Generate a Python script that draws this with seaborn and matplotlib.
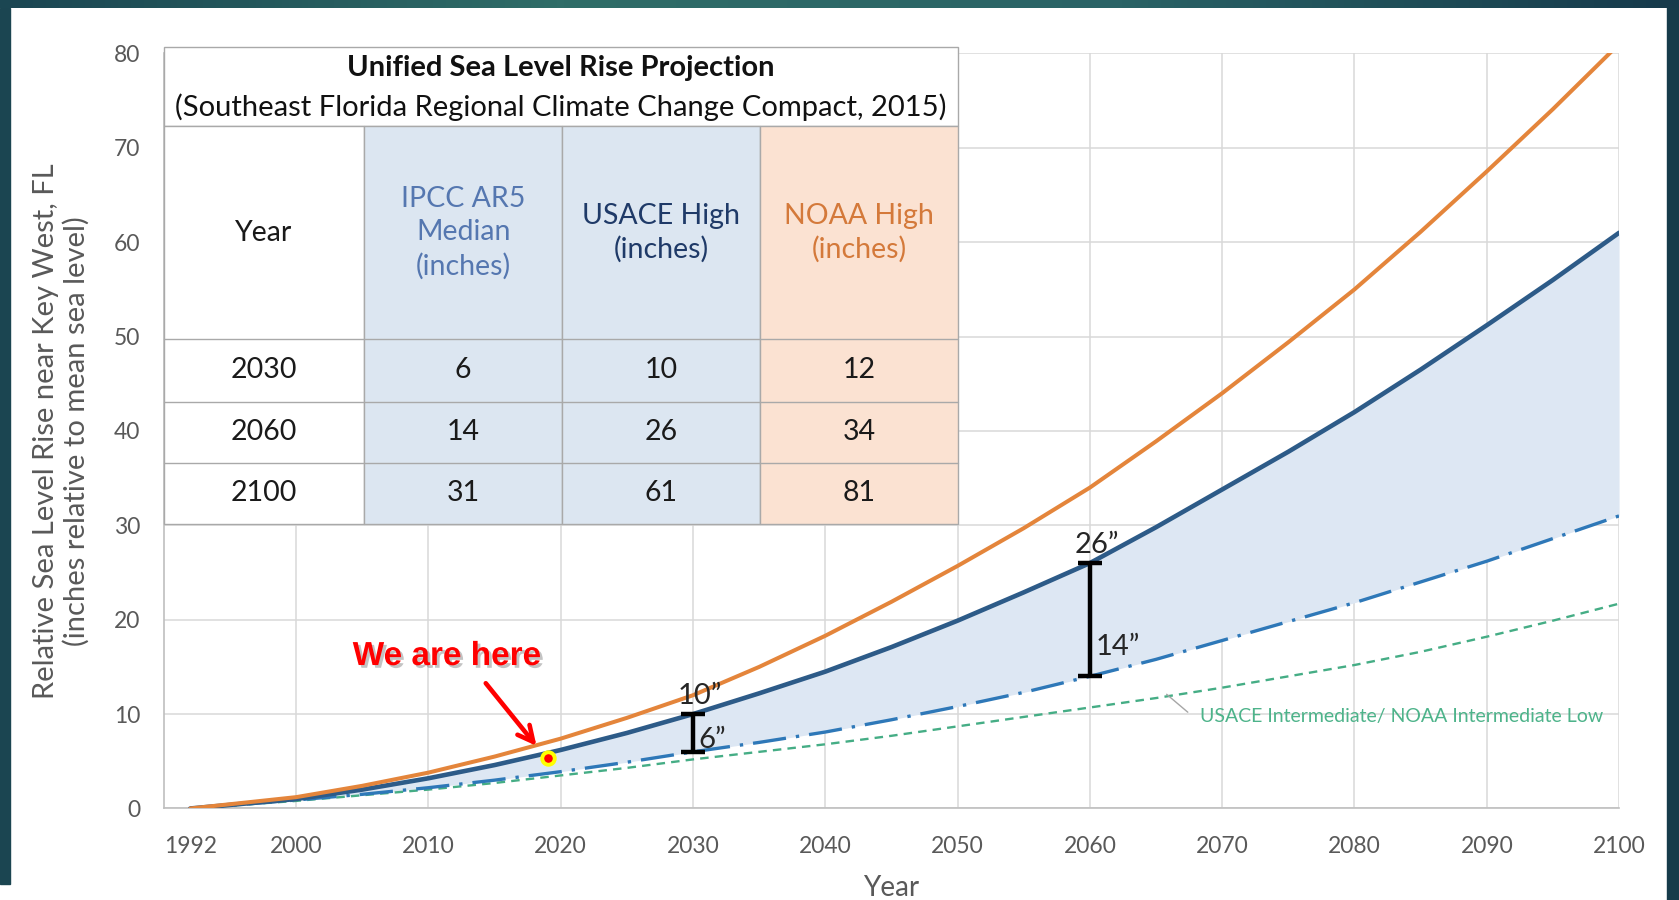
import numpy as np
import matplotlib.pyplot as plt
import matplotlib.patheffects as pe
from matplotlib.patches import Rectangle
from matplotlib.colors import LinearSegmentedColormap
import seaborn as sns

# Projection curves (inches relative to mean sea level), read every 5 years
years = [1992, 2000, 2005, 2010, 2015, 2020, 2025, 2030, 2035, 2040, 2045, 2050,
         2055, 2060, 2065, 2070, 2075, 2080, 2085, 2090, 2095, 2100]
noaa_high = [0, 1.2, 2.4, 3.8, 5.5, 7.4, 9.6, 12, 15, 18.3, 21.9, 25.7,
             29.7, 34, 38.9, 44, 49.4, 55, 61.1, 67.5, 74.1, 81]
usace_high = [0, 1.0, 2.0, 3.2, 4.6, 6.2, 8.0, 10, 12.2, 14.5, 17.1, 19.9,
              22.9, 26, 29.8, 33.8, 37.8, 42, 46.5, 51.2, 56, 61]
ipcc_median = [0, 0.9, 1.5, 2.2, 3.0, 3.9, 4.9, 6, 7.0, 8.1, 9.4, 10.8,
               12.3, 14, 15.8, 17.8, 19.8, 21.8, 24.0, 26.2, 28.6, 31]
usace_int = [0, 0.8, 1.4, 2.0, 2.7, 3.5, 4.3, 5.2, 6.0, 6.8, 7.7, 8.7,
             9.7, 10.7, 11.7, 12.8, 14.0, 15.2, 16.6, 18.2, 19.9, 21.7]

# Table values
table_years = [2030, 2060, 2100]
table_ipcc = [6, 14, 31]
table_usace = [10, 26, 61]
table_noaa = [12, 34, 81]
table_headers = ["Year", "IPCC AR5\nMedian\n(inches)", "USACE High\n(inches)", "NOAA High\n(inches)"]

# Range bars and "we are here"
bar_years = [2030, 2060]
bar_low = [6, 14]
bar_high = [10, 26]
here_year = 2019
here_value = 5.3

x_ticks = [1992, 2000, 2010, 2020, 2030, 2040, 2050, 2060, 2070, 2080, 2090, 2100]
y_ticks = [0, 10, 20, 30, 40, 50, 60, 70, 80]

sns.set_theme(style="whitegrid")
plt.rcParams['font.family'] = ['Lato', 'DejaVu Sans']

fig = plt.figure(figsize=(16.79, 9), dpi=100)
ax = fig.add_axes([0.0976, 0.1017, 0.8667, 0.8389])

# shaded band between IPCC median and USACE high
ax.fill_between(years, ipcc_median, usace_high, color='#dde7f3', zorder=1, linewidth=0)

sns.lineplot(x=years, y=usace_int, ax=ax, color='#45ad85', linewidth=1.7, zorder=3)
ax.lines[-1].set_dashes((3.6, 2.6))
sns.lineplot(x=years, y=ipcc_median, ax=ax, color='#2e78b8', linewidth=2.4, zorder=3)
ax.lines[-1].set_dashes((10, 3, 1, 3))
sns.lineplot(x=years, y=usace_high, ax=ax, color='#2d5b88', linewidth=3.3, zorder=4)
sns.lineplot(x=years, y=noaa_high, ax=ax, color='#e4853b', linewidth=2.9, zorder=4)

# range bars
ax.vlines(bar_years, bar_low, bar_high, color='black', linewidth=3.2, zorder=6)
ax.hlines(bar_low + bar_high, [y - 0.9 for y in bar_years * 2], [y + 0.9 for y in bar_years * 2],
          color='black', linewidth=3.2, zorder=6)
for yr, lo, hi in zip(bar_years, bar_low, bar_high):
    ax.text(yr + 0.5, hi + 1.9, f"{hi}\u201d", fontsize=21, ha='center', va='center', zorder=7)
    ax.text(yr + 0.4, lo + 1.3 + (lo > 10) * 1.8, f"{lo}\u201d", fontsize=21, ha='left', va='center', zorder=7)

# we are here
ax.plot([here_year], [here_value], marker='o', markersize=9, markerfacecolor='#ff0000',
        markeredgecolor='#ffff00', markeredgewidth=2.8, zorder=8)
ax.annotate("", xy=(2018.3, 6.4), xytext=(2014.2, 13.5),
            arrowprops=dict(arrowstyle='->', color='#ff0000', lw=3.3, mutation_scale=28), zorder=8)
ax.text(2011.4, 16.1, "We are here", fontsize=24, fontweight='bold', color='#ff0000',
        family='Liberation Sans', ha='center', va='center', zorder=8,
        path_effects=[pe.SimplePatchShadow(offset=(2, -2), shadow_rgbFace='#888888', alpha=0.5), pe.Normal()])

# intermediate label
ax.plot([2065.8, 2067.4], [12.1, 10.2], color='#a6a6a6', linewidth=1, zorder=3)
ax.text(2068.3, 9.7, "USACE Intermediate/ NOAA Intermediate Low", fontsize=14, color='#4db38a',
        ha='left', va='center', zorder=3)

# axes styling
ax.set_xlim(1990, 2100)
ax.set_ylim(0, 80)
ax.set_xticks(x_ticks)
ax.set_yticks(y_ticks)
ax.grid(True, color='#d9d9d9', linewidth=1.1)
ax.xaxis.get_major_ticks()[0].gridline.set_visible(False)
ax.tick_params(axis='both', length=0, labelsize=16.5, labelcolor='#595959')
ax.tick_params(axis='y', pad=17)
ax.tick_params(axis='x', pad=20)
for side in ['top', 'right']:
    ax.spines[side].set_visible(False)
for side in ['left', 'bottom']:
    ax.spines[side].set_color('#bfbfbf')
    ax.spines[side].set_linewidth(1.2)

ax.set_ylabel("Relative Sea Level Rise near Key West, FL\n(inches relative to mean sea level)",
              fontsize=21, color='#595959', linespacing=1.2, va='center')
ax.yaxis.set_label_coords(-0.0705, 0.5)
ax.set_xlabel("Year", fontsize=20, color='#595959', va='center')
ax.xaxis.set_label_coords(0.5, -0.105)

# embedded table (axes fraction)
col_edges = [0, 0.1376, 0.2737, 0.4099, 0.546]
row_edges = [1.009, 0.9035, 0.6213, 0.539, 0.458, 0.3773]
col_fill = ['white', '#dce6f1', '#dce6f1', '#fbe2d2']
head_color = ['#1a1a1a', '#5577b0', '#1f3a68', '#d4793a']
border = '#a9a9a9'
tr = ax.transAxes

ax.add_patch(Rectangle((0, row_edges[1]), col_edges[-1], row_edges[0] - row_edges[1], transform=tr,
                       facecolor='white', edgecolor=border, linewidth=1, zorder=10, clip_on=False))
for c in range(4):
    ax.add_patch(Rectangle((col_edges[c], row_edges[-1]), col_edges[c + 1] - col_edges[c],
                           row_edges[1] - row_edges[-1], transform=tr, facecolor=col_fill[c],
                           edgecolor=border, linewidth=1, zorder=10, clip_on=False))
    cx = (col_edges[c] + col_edges[c + 1]) / 2
    ax.text(cx, (row_edges[1] + row_edges[2]) / 2, table_headers[c], transform=tr, fontsize=20.5,
            color=head_color[c], ha='center', va='center', linespacing=1.35, zorder=12)
for r in range(3):
    ax.plot([0, col_edges[-1]], [row_edges[r + 2]] * 2, transform=tr, color=border, linewidth=1,
            zorder=11, clip_on=False)
    cy = (row_edges[r + 2] + row_edges[r + 3]) / 2
    vals = [table_years[r], table_ipcc[r], table_usace[r], table_noaa[r]]
    for c in range(4):
        cx = (col_edges[c] + col_edges[c + 1]) / 2
        ax.text(cx, cy, str(vals[c]), transform=tr, fontsize=20.5, color='#1a1a1a',
                ha='center', va='center', zorder=12)

ax.text(col_edges[-1] / 2, 0.981, "Unified Sea Level Rise Projection", transform=tr, fontsize=21,
        fontweight='bold', ha='center', va='center', color='#111111', zorder=12)
ax.text(col_edges[-1] / 2, 0.929, "(Southeast Florida Regional Climate Change Compact, 2015)",
        transform=tr, fontsize=21, ha='center', va='center', color='#111111', zorder=12)

# slide frame
frame_cmap = LinearSegmentedColormap.from_list('frame', ['#1b4652', '#2f6d68', '#2a6366', '#163a4b'])
top = fig.add_axes([0, 1 - 8 / 900, 1, 8 / 900])
top.imshow(np.linspace(0, 1, 256)[None, :], cmap=frame_cmap, aspect='auto')
top.axis('off')
fig.add_artist(Rectangle((0, 16 / 900), 10 / 1679, 876 / 900, transform=fig.transFigure,
                         color='#1b4551', zorder=0))
fig.add_artist(Rectangle((1667 / 1679, 0), 12 / 1679, 1, transform=fig.transFigure,
                         color='#163b4a', zorder=0))

plt.savefig("out.png", dpi=100)
